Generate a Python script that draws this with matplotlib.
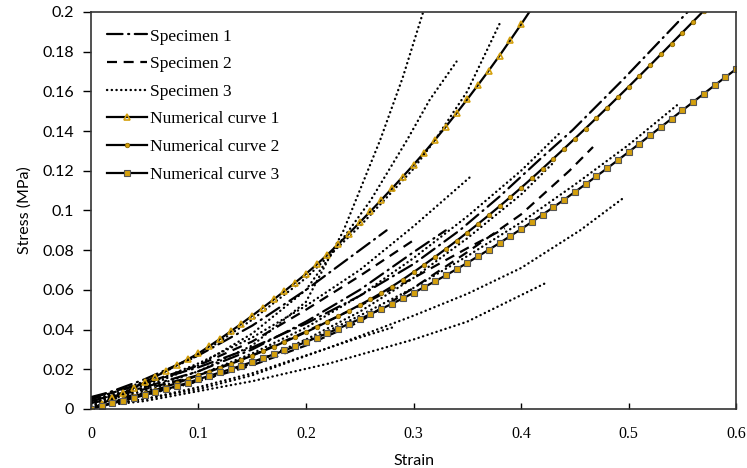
import matplotlib
matplotlib.use("Agg")
import matplotlib.pyplot as plt
import numpy as np

# numerical curves, strain step 0.01
num1_x = np.round(np.arange(0, 0.415, 0.01), 2)
num1_y = [0, .0026, .0053, .0080, .0107, .0135, .0163, .0192, .0221, .0250,
          .0280, .0316, .0353, .0391, .0430, .0470, .0511, .0552, .0594, .0637,
          .0681, .0728, .0778, .0830, .0884, .0940, .0996, .1053, .1111, .1170,
          .1230, .1292, .1356, .1422, .1490, .1560, .1632, .1705, .1780, .1858,
          .1937, .2018]
num2_x = np.round(np.arange(0, 0.575, 0.01), 2)
num2_y = [0, .0016, .0032, .0048, .0064, .0080, .0096, .0113, .0131, .0150,
          .0170, .0188, .0207, .0227, .0248, .0269, .0291, .0314, .0338, .0362,
          .0387, .0413, .0440, .0467, .0495, .0524, .0553, .0584, .0617, .0652,
          .0689, .0727, .0766, .0806, .0847, .0889, .0932, .0976, .1021, .1067,
          .1114, .1162, .1211, .1261, .1311, .1362, .1413, .1465, .1517, .1570,
          .1623, .1677, .1731, .1786, .1841, .1896, .1951, .2006]
num3_x = np.round(np.arange(0, 0.605, 0.01), 2)
num3_y = [0, .0014, .0028, .0042, .0056, .0070, .0085, .0100, .0115, .0132,
          .0150, .0167, .0184, .0201, .0219, .0237, .0256, .0275, .0295, .0316,
          .0338, .0360, .0382, .0405, .0429, .0453, .0478, .0504, .0530, .0557,
          .0585, .0614, .0643, .0673, .0704, .0736, .0769, .0802, .0836, .0871,
          .0906, .0942, .0979, .1016, .1054, .1093, .1132, .1172, .1212, .1253,
          .1294, .1336, .1378, .1420, .1462, .1504, .1546, .1588, .1630, .1671,
          .1712]

# Specimen 1 (dash-dot)
s1 = [
    ([0, .05, .1, .15, .2, .25, .3, .343, .38, .418, .448, .495, .525, .555],
     [.006, .013, .021, .031, .043, .057, .073, .09, .107, .126, .1405, .166, .183, .2]),
    ([0, .05, .1, .15, .2, .24, .275],
     [.005, .015, .027, .042, .06, .076, .09]),
    ([0, .05, .1, .15, .2, .25, .3, .33],
     [.004, .011, .019, .03, .044, .06, .079, .09]),
]
# Specimen 2 (dashed)
s2 = [
    ([0, .05, .1, .15, .2, .25, .3, .325, .35, .4, .4225, .445, .467],
     [.003, .008, .014, .022, .032, .044, .061, .07, .079, .098, .109, .12, .132]),
    ([0, .05, .1, .15, .2, .25, .3, .35, .385],
     [.004, .01, .017, .027, .039, .052, .066, .081, .091]),
    ([0, .05, .1, .15, .2, .25, .3],
     [.005, .013, .022, .034, .05, .067, .085]),
]
# Specimen 3 (dotted)
s3 = [
    ([0, .05, .1, .15, .2, .235, .269, .29, .309],
     [.003, .01, .019, .032, .054, .09, .1355, .167, .2]),
    ([0, .05, .1, .15, .2, .222, .26, .294, .315, .34],
     [.003, .011, .022, .038, .06, .0766, .105, .1355, .1557, .175]),
    ([0, .05, .1, .15, .2, .25, .3, .32, .35, .38],
     [.004, .014, .027, .045, .066, .092, .121, .1355, .16, .194]),
    ([0, .05, .1, .15, .2, .25, .3, .353],
     [.004, .012, .023, .036, .052, .07, .092, .117]),
    ([0, .05, .1, .15, .2, .25, .3, .35, .4, .436],
     [.003, .009, .017, .028, .041, .057, .076, .097, .12, .139]),
    ([0, .05, .1, .15, .2, .25, .3, .35, .4, .43],
     [.002, .007, .014, .023, .035, .049, .066, .086, .108, .124]),
    ([0, .05, .1, .15, .2, .25, .3, .35, .4, .45, .5, .545],
     [.002, .007, .014, .023, .034, .047, .061, .077, .094, .113, .133, .153]),
    ([0, .05, .1, .15, .222, .3, .35, .4, .455, .497],
     [.001, .005, .01, .017, .031, .047, .058, .071, .09, .107]),
    ([0, .05, .1, .15, .222, .3, .35, .425],
     [.001, .004, .009, .014, .023, .035, .044, .064]),
    ([0, .05, .1, .15, .2, .25, .28],
     [.001, .005, .011, .018, .027, .036, .041]),
]

gold = '#D4A00C'
dashdot = (0, (7, 2.5, 0.5, 2.5))
dashed = (0, (4.5, 3))
dotted = (0, (0.1, 1.9))

fig, ax = plt.subplots(figsize=(7.47, 4.68), dpi=100)
fig.subplots_adjust(left=0.1218, right=0.9853, bottom=0.1261, top=0.9744)

for i, (x, y) in enumerate(s1):
    ax.plot(x, y, color='black', lw=1.6, ls=dashdot, dash_capstyle='round',
            label='Specimen 1' if i == 0 else None)
for i, (x, y) in enumerate(s2):
    ax.plot(x, y, color='black', lw=1.6, ls=dashed,
            label='Specimen 2' if i == 0 else None)
for i, (x, y) in enumerate(s3):
    ax.plot(x, y, color='black', lw=1.7, ls=dotted, dash_capstyle='round',
            label='Specimen 3' if i == 0 else None)

ax.plot(num1_x, num1_y, color='black', lw=1.6, marker='^', ms=4.5, mfc='none',
        mec=gold, mew=1.2, label='Numerical curve 1')
ax.plot(num2_x, num2_y, color='black', lw=1.6, marker='o', ms=3.2, mfc=gold,
        mec='#8a6600', mew=0.6, label='Numerical curve 2')
ax.plot(num3_x, num3_y, color='black', lw=1.6, marker='s', ms=4.5, mfc=gold,
        mec='#555555', mew=0.8, label='Numerical curve 3')

ax.set_xlim(0, 0.6)
ax.set_ylim(0, 0.2)
ax.set_xticks([0, 0.1, 0.2, 0.3, 0.4, 0.5, 0.6])
ax.set_xticklabels(['0', '0.1', '0.2', '0.3', '0.4', '0.5', '0.6'])
ax.set_yticks(np.round(np.arange(0, 0.201, 0.02), 2))
ax.set_yticklabels(['0', '0.02', '0.04', '0.06', '0.08', '0.1', '0.12',
                    '0.14', '0.16', '0.18', '0.2'])
ax.tick_params(axis='x', direction='in', length=4, width=1, pad=12)
ax.tick_params(axis='y', direction='out', length=6, width=1, pad=6)
for lab in ax.get_xticklabels():
    lab.set_fontfamily('Liberation Serif')
    lab.set_fontsize(11.5)
for lab in ax.get_yticklabels():
    lab.set_fontfamily('Lato')
    lab.set_fontsize(11.5)
for sp in ax.spines.values():
    sp.set_linewidth(1.2)
    sp.set_color('#333333')

ax.set_xlabel('Strain', family='Lato', fontsize=11.5, labelpad=9)
ax.set_ylabel('Stress (MPa)', family='Lato', fontsize=11.5, labelpad=8)

leg = ax.legend(loc='upper left', bbox_to_anchor=(0.0, 0.998), frameon=False,
                prop={'family': 'Liberation Serif', 'size': 12.5},
                handlelength=2.3, handletextpad=0.2, labelspacing=0.66)

fig.savefig('out.png', dpi=100)
